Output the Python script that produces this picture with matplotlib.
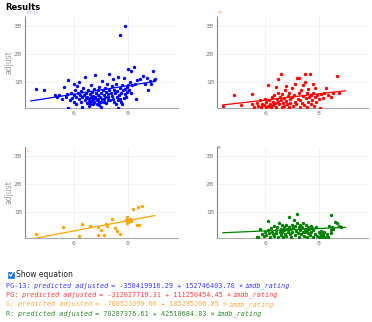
import numpy as np
import matplotlib
matplotlib.use("Agg")
import matplotlib.pyplot as plt
from matplotlib.patches import Rectangle
from matplotlib.lines import Line2D

W, H = 372, 322

ratings = ["PG-13", "PG", "G", "R"]
colors = ["#0000ff", "#ff0000", "#ffa500", "#008000"]
eq_colors = ["#3b3bff", "#ff3b3b", "#ffad45", "#2e8b2e"]
label_colors = ["#9a9aff", "#ff8a8a", "#ffb070", "#666666"]
intercepts = [-350419916.29, -312027719.31, -788523099.60, 70287376.61]
slopes = [152746403.70, 111250454.45, 185295206.85, 42518684.83]

pg13 = [(4.60,0.77),(4.90,0.72),(5.30,0.52),(5.40,0.45),(5.45,0.55),(5.55,0.40),(5.65,0.82),(5.70,0.48),
        (5.75,0.58),(5.80,1.07),(5.80,0.08),(5.85,0.35),(5.90,0.62),(5.95,0.42),(6.00,0.95),(6.00,0.55),
        (6.02,0.30),(6.05,0.70),(6.08,0.45),(6.10,0.20),(6.12,0.85),(6.15,0.60),(6.18,0.38),(6.20,1.00),
        (6.22,0.52),(6.25,0.28),(6.28,0.68),(6.30,0.45),(6.32,0.12),(6.35,0.78),(6.38,0.55),(6.40,0.35),
        (6.42,1.18),(6.45,0.62),(6.48,0.25),(6.50,0.48),(6.52,0.72),(6.55,0.40),(6.58,0.15),(6.60,0.58),
        (6.62,0.88),(6.65,0.32),(6.68,0.65),(6.70,0.50),(6.72,0.22),(6.75,0.75),(6.78,0.42),(6.80,1.25),
        (6.82,0.60),(6.85,0.35),(6.88,0.70),(6.90,0.52),(6.92,0.18),(6.95,0.82),(6.98,0.45),(7.00,0.62),
        (7.02,0.30),(7.05,1.05),(7.08,0.72),(7.10,0.55),(7.12,0.40),(7.15,0.78),(7.18,0.65),(7.20,0.25),
        (7.22,0.92),(7.25,0.58),(7.28,0.45),(7.30,1.28),(7.32,0.70),(7.35,0.35),(7.38,0.62),(7.40,0.85),
        (7.42,0.50),(7.45,1.12),(7.48,0.72),(7.50,0.30),(7.52,0.60),(7.55,0.95),(7.58,0.45),(7.60,0.68),
        (7.62,1.20),(7.65,0.08),(7.68,0.55),(7.70,0.78),(7.72,0.40),(7.75,0.62),(7.78,0.90),(7.80,0.22),
        (7.82,0.70),(7.85,1.15),(7.88,0.58),(7.90,0.75),(7.92,0.45),(7.95,0.82),(7.98,0.65),(8.00,1.47),
        (8.02,0.88),(8.05,0.72),(8.08,1.00),(8.10,1.40),(8.12,0.62),(8.15,0.90),(8.22,1.56),(8.25,0.95),
        (8.30,0.38),(8.35,1.08),(8.45,1.10),(8.55,1.22),(8.62,0.92),(8.70,1.15),(8.75,0.70),(8.80,1.05),
        (8.85,0.95),(8.91,1.41),(8.95,1.08),(9.00,1.10),(7.70,2.71),(7.88,3.02),
        (6.45,0.42),(6.55,0.30),(6.60,0.22),(6.65,0.45),(6.70,0.38),(6.75,0.28),(6.80,0.48),(6.85,0.20),
        (6.90,0.40),(6.95,0.30),(7.00,0.12),(7.05,0.38),(7.10,0.28),(7.15,0.48),(7.25,0.35),(7.45,0.40),
        (7.55,0.20),(7.65,0.35),(7.75,0.28),(7.85,0.42)]

pg = [(4.42,0.13),(4.83,0.52),(5.11,0.17),(5.51,0.57),(5.51,0.20),(5.60,0.12),(5.70,0.25),(5.75,0.15),
      (5.80,0.35),(5.85,0.10),(5.90,0.22),(5.95,0.18),(6.00,0.40),(6.02,0.12),(6.05,0.28),(6.10,0.89),
      (6.12,0.15),(6.15,0.35),(6.20,0.22),(6.22,0.10),(6.25,0.45),(6.28,0.30),(6.30,0.18),(6.35,0.55),
      (6.38,0.25),(6.40,0.82),(6.42,0.12),(6.45,0.40),(6.48,0.62),(6.49,1.11),(6.50,0.30),(6.52,0.20),
      (6.55,0.48),(6.59,1.30),(6.60,0.35),(6.62,0.10),(6.65,0.58),(6.68,0.25),(6.70,0.42),(6.72,0.15),
      (6.75,0.70),(6.78,0.32),(6.80,0.85),(6.82,0.20),(6.85,0.50),(6.88,0.12),(6.90,0.62),(6.92,0.38),
      (6.95,0.25),(7.00,0.78),(7.02,0.45),(7.05,0.15),(7.08,0.55),(7.10,0.30),(7.12,0.92),(7.15,0.20),
      (7.20,1.14),(7.22,0.40),(7.26,1.14),(7.28,0.60),(7.30,0.12),(7.32,0.35),(7.35,0.72),(7.38,0.25),
      (7.40,0.50),(7.42,0.88),(7.45,0.18),(7.48,1.30),(7.50,1.00),(7.52,0.42),(7.55,0.62),(7.58,0.10),
      (7.60,0.30),(7.62,0.75),(7.65,0.48),(7.69,1.30),(7.70,0.20),(7.72,0.55),(7.75,0.35),(7.79,0.95),
      (7.80,0.62),(7.82,0.15),(7.85,0.45),(7.88,0.80),(7.90,0.28),(7.95,0.52),(8.00,0.38),(8.05,0.08),
      (8.10,0.58),(8.15,0.42),(8.20,0.62),(8.26,0.78),(8.35,0.55),(8.45,0.48),(8.55,0.60),(8.68,1.21),
      (8.75,0.62)]

g = [(4.60,0.21),(5.60,0.46),(6.20,0.13),(6.31,0.57),(6.60,0.51),(6.89,0.45),(6.91,0.16),(7.01,0.36),
     (7.10,0.16),(7.20,0.58),(7.22,0.49),(7.41,0.75),(7.51,0.42),(7.60,0.33),(7.69,0.20),(7.92,0.70),
     (7.95,0.67),(7.97,0.82),(8.00,0.64),(8.02,0.72),(8.05,0.67),(8.10,0.68),(8.20,1.11),(8.32,0.55),
     (8.41,0.55),(8.38,1.17),(8.51,1.23),(7.98,0.60),(8.08,0.75)]

r = [(5.70,0.10),(5.75,0.12),(5.81,0.40),(5.90,0.22),(5.95,0.15),(6.00,0.30),(6.05,0.18),(6.10,0.69),
     (6.10,0.35),(6.15,0.25),(6.20,0.12),(6.22,0.42),(6.25,0.30),(6.30,0.20),(6.32,0.50),(6.35,0.15),
     (6.40,0.35),(6.42,0.25),(6.45,0.45),(6.48,0.12),(6.52,0.61),(6.55,0.30),(6.58,0.40),(6.60,0.18),
     (6.62,0.52),(6.65,0.28),(6.68,0.10),(6.70,0.45),(6.72,0.35),(6.75,0.22),(6.78,0.55),(6.80,0.15),
     (6.82,0.40),(6.85,0.30),(6.89,0.81),(6.90,0.48),(6.92,0.20),(6.95,0.38),(6.98,0.12),(7.00,0.55),
     (7.02,0.28),(7.05,0.42),(7.09,0.72),(7.10,0.18),(7.12,0.50),(7.15,0.32),(7.18,0.60),(7.20,0.93),
     (7.22,0.25),(7.25,0.45),(7.28,0.12),(7.30,0.55),(7.32,0.35),(7.35,0.22),(7.38,0.48),(7.40,0.30),
     (7.42,0.60),(7.45,0.15),(7.48,0.40),(7.50,0.28),(7.52,0.52),(7.55,0.35),(7.58,0.10),(7.60,0.45),
     (7.62,0.25),(7.65,0.38),(7.68,0.18),(7.70,0.50),(7.72,0.30),(7.75,0.42),(7.78,0.12),(7.80,0.35),
     (7.85,0.22),(7.90,0.45),(7.95,0.15),(8.00,0.30),(8.02,0.12),(8.05,0.25),(8.08,0.18),(8.10,0.32),
     (8.12,0.10),(8.15,0.22),(8.18,0.15),(8.20,0.28),(8.25,0.12),(8.30,0.20),(8.35,0.10),(8.40,0.50),
     (8.45,0.35),(8.47,0.25),(8.47,0.88),(8.50,0.48),(8.55,0.40),(8.60,0.66),(8.70,0.62),(8.75,0.50),
     (8.85,0.48)]

data = [pg13, pg, g, r]
y_ticks = [1, 2, 3]
y_ticklabels = ["1B", "2B", "3B"]
x_ticks = [6, 8]
x_ticklabels = ["6", "8"]

fig = plt.figure(figsize=(W / 100, H / 100), dpi=100)
fig.patch.set_facecolor("white")

# axes boxes in pixels: (left, top, right, bottom)
boxes = [(25, 17, 178, 108), (217, 17, 368, 108), (25, 147, 178, 238), (217, 147, 368, 238)]

all_x = np.concatenate([np.array(d)[:, 0] for d in data])
line_x = np.array([all_x.min(), all_x.max()])

for i, (rt, d) in enumerate(zip(ratings, data)):
    L, T, R, B = boxes[i]
    ax = fig.add_axes([L / W, 1 - B / H, (R - L) / W, (B - T) / H])
    arr = np.array(d)
    ax.scatter(arr[:, 0], arr[:, 1], s=6, color=colors[i], linewidths=0, zorder=3)
    ly = (intercepts[i] + slopes[i] * line_x) / 1e9
    ax.plot(line_x, ly, color=colors[i], lw=0.9, zorder=2)
    ax.set_xlim(4.2, 9.85)
    ax.set_ylim(0.07, 3.34)
    ax.set_xticks(x_ticks)
    ax.set_xticklabels(x_ticklabels)
    ax.set_yticks(y_ticks)
    ax.set_yticklabels(y_ticklabels)
    ax.tick_params(length=0, labelsize=4.5, colors="#777777", pad=2)
    ax.grid(True, color="#f0f0f0", lw=0.6)
    ax.set_axisbelow(True)
    for s in ["top", "right"]:
        ax.spines[s].set_visible(False)
    ax.spines["left"].set_color("#888888")
    ax.spines["bottom"].set_color("#aaaaaa")
    ax.spines["left"].set_linewidth(0.8)
    ax.spines["bottom"].set_linewidth(0.8)
    if i % 2 == 0:
        ax.set_ylabel("adjust", fontsize=5.5, color="#999999")
        ax.yaxis.set_label_coords((13 - L) / (R - L), 0.5)

# panel labels
label_pos = [(27, 12.5), (218, 12.5), (27, 150.5), (218, 148)]
for i, rt in enumerate(ratings):
    fig.text(label_pos[i][0] / W, 1 - label_pos[i][1] / H, rt, fontsize=2.8,
             color=label_colors[i], ha="left", va="center")

fig.text(5 / W, 1 - 7 / H, "Results", fontsize=6, fontweight="bold", ha="left", va="center")

# checkbox
cb = Rectangle((8 / W, 1 - 277.5 / H), 6 / W, 6 / H, transform=fig.transFigure,
               facecolor="#1a73e8", edgecolor="#1a73e8", lw=0.5)
fig.patches.append(cb)
fig.lines.append(Line2D([9.3 / W, 10.7 / W, 13 / W], [1 - 274.5 / H, 1 - 276.2 / H, 1 - 272.5 / H],
                        transform=fig.transFigure, color="white", lw=0.8))
fig.text(16 / W, 1 - 274.5 / H, "Show equation", fontsize=5.5, ha="left", va="center", color="#222222")

# equations
fs = 4.85
cw = 0.602 * fs * 100 / 72  # px per char
eq_y = [286, 295, 304.3, 313.6]
for i, rt in enumerate(ratings):
    a = intercepts[i]
    b = slopes[i]
    segs = [(f"{rt}: ", "normal"), ("predicted adjusted", "italic"),
            (f" = {a:.2f} + {b:.2f} × ", "normal"), ("imdb_rating", "italic")]
    n = 0
    for txt, style in segs:
        fig.text((6 + n * cw) / W, 1 - eq_y[i] / H, txt, fontsize=fs, family="DejaVu Sans Mono",
                 style=style, color=eq_colors[i], ha="left", va="center")
        n += len(txt)

fig.savefig("out.png", dpi=100)
